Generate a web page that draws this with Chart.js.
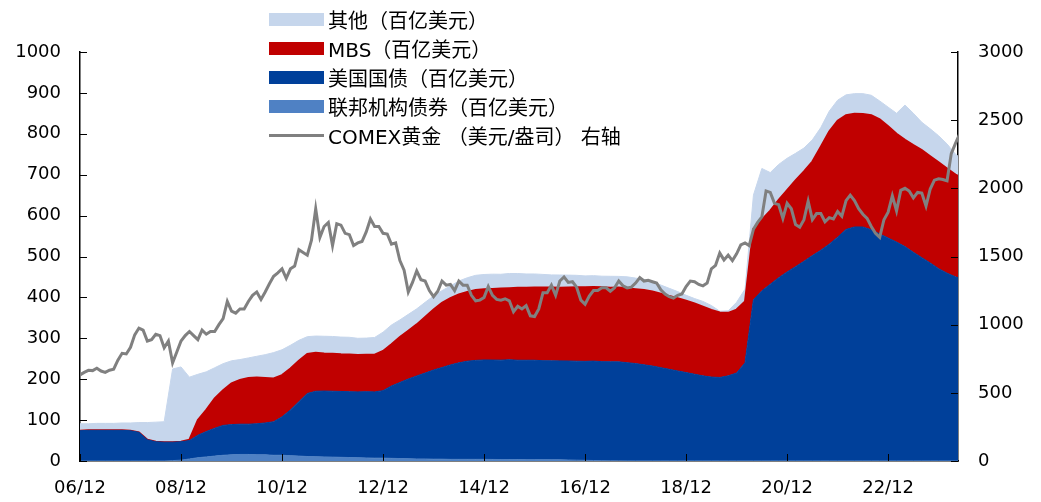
<!DOCTYPE html>
<html>
<head>
<meta charset="utf-8">
<script src="https://cdn.jsdelivr.net/npm/chart.js@4.4.1/dist/chart.umd.min.js"></script>
<style>
    body { margin: 0; background: #fff; }
    #wrap { position: relative; width: 1041px; height: 502px; }
    #legend { position: absolute; left: 269px; top: 0; font: 20px 'DejaVu Sans', 'Noto Sans CJK SC', sans-serif; color: #000; }
    .item { position: absolute; left: 0; height: 29px; white-space: nowrap; display: flex; align-items: center; }
    .swatch { width: 55px; height: 13px; margin-right: 4px; }
    .line { width: 55px; height: 3px; margin-right: 4px; }
</style>
</head>
<body>
<div id="wrap">
    <canvas id="chart" width="1041" height="502"></canvas>
    <div id="legend"></div>
</div>
<script>
// months since 2006/12, sampled every two months for the balance sheet
const months = [];
for (let m = 0; m <= 208; m += 2) months.push(m);
months.push(209);

const xTickLabels = ['06/12', '08/12', '10/12', '12/12', '14/12', '16/12', '18/12', '20/12', '22/12'];

// 联邦机构债券 (百亿美元)
const agency = [
    0, 0, 0, 0, 0, 0, 0, 0, 0, 0, 0,
    1, 2, 5, 8, 10, 12, 14, 15, 16, 16, 15, 15, 14, 14, 13, 12, 11, 10.5, 10, 9.5,
    9, 8.5, 8, 7.5, 7, 7, 6.5, 6, 5.5, 5, 5, 4.5, 4.5, 4, 4, 4, 4, 4, 3.8, 3.6,
    3.5, 3.4, 3.3, 3.3, 3.2, 3, 2.8, 2.5, 2, 1.6, 1.2, 0.9, 0.6, 0.4, 0.3,
    0.2, 0.2, 0.2, 0.2, 0.2, 0.2, 0.2, 0.2, 0.2, 0.2, 0.2, 0.2, 0.2, 0.2, 0.2, 0.2, 0.2, 0.2, 0.2, 0.2,
    0.2, 0.2, 0.2, 0.2, 0.2, 0.2, 0.2, 0.2, 0.2, 0.2, 0.2, 0.2, 0.2, 0.2, 0.2, 0.2, 0.2, 0.2, 0.2, 0.2
];

// 美国国债 (百亿美元)
const treasury = [
    74, 75, 75, 75, 75, 75, 74, 70, 52, 47, 46,
    45, 45, 45, 55, 62, 68, 73, 74, 74, 74,
    76, 78, 82, 94, 112, 133, 154, 160, 161, 161,
    161, 161, 161, 162, 162, 165, 177, 186, 195, 203,
    210, 218, 224, 231, 236, 240, 242, 243, 243, 243,
    244, 243, 243, 243, 242, 242, 242, 242, 242, 242,
    243, 242, 242, 242, 240, 238, 235, 232, 228, 224,
    220, 216, 212, 208, 205, 204, 208, 215, 240, 394,
    416, 432, 448, 462, 475, 488, 502, 515, 530, 547,
    566, 572, 572, 565, 555, 545, 535, 524, 510, 497,
    484, 470, 459, 450, 447
];

// MBS (百亿美元)
const mbs = [
    0, 0, 0, 0, 0, 0, 0, 0, 0, 0, 0, 0, 0,
    2, 37, 53, 73, 86, 101, 108, 113,
    113, 110, 106, 102, 101, 100, 97, 94, 92, 92,
    91, 91, 90, 90, 91, 97, 102, 111, 118, 126,
    137, 148, 158, 163, 167, 169, 172, 173, 174, 175,
    175, 177, 177, 178, 179, 179, 179, 180, 181, 181,
    181, 182, 181, 182, 182, 182, 183, 182, 181, 179,
    178, 176, 173, 169, 164, 159, 154, 155, 150, 174,
    174, 180, 190, 200, 211, 220, 230, 253, 275, 285,
    279, 277, 276, 280, 280, 273, 265, 261, 262, 263,
    261, 260, 256, 250, 248
];

// 其他 (百亿美元)
const other = [
    17, 16, 17, 17, 17, 18, 19, 24, 42, 48,
    50, 179, 183, 153, 112, 93, 75, 65, 55, 50,
    49, 52, 57, 63, 62, 57, 50, 42, 41, 42,
    42, 42, 42, 41, 41, 42, 46, 47, 42, 40,
    38, 36, 33, 30, 30, 33, 35, 36, 36, 36,
    35, 36, 35, 34, 33, 32, 31, 31, 30, 29,
    28, 28, 27, 28, 27, 28, 27, 26, 24, 21,
    19, 16, 13, 12, 13, 11, 3, 5, 18, 30,
    82, 125, 93, 87, 78, 66, 57, 53, 47, 50,
    50, 50, 49, 50, 49, 45, 47, 50, 85, 78,
    68, 67, 65, 60, 50, 47
];

// COMEX黄金 (美元/盎司), monthly from 2006/12
const gold = [
    632,
    650, 665, 663, 680, 660, 650, 666, 673, 740, 790, 785, 834,
    925, 975, 960, 880, 890, 930, 920, 830, 880, 720, 800, 880,
    920, 950, 920, 890, 960, 930, 950, 950, 1000, 1045, 1170, 1100,
    1085, 1115, 1115, 1170, 1215, 1240, 1185, 1240, 1300, 1355, 1380, 1410,
    1340, 1410, 1430, 1550, 1530, 1510, 1620, 1850, 1640, 1720, 1750, 1580,
    1740, 1730, 1670, 1660, 1580, 1600, 1610, 1680, 1775, 1720, 1720, 1670,
    1665, 1590, 1600, 1470, 1400, 1240, 1310, 1395, 1330, 1320, 1250, 1205,
    1245, 1320, 1290, 1295, 1250, 1320, 1290, 1290, 1215, 1175, 1180, 1200,
    1280, 1215, 1185, 1180, 1190, 1175, 1095, 1135, 1115, 1140, 1065, 1060,
    1115, 1235, 1235, 1290, 1215, 1320, 1350, 1310, 1315, 1275, 1180, 1150,
    1210, 1250, 1250, 1270, 1270, 1245, 1270, 1320, 1285, 1270, 1275, 1305,
    1345, 1320, 1325, 1315, 1305, 1255, 1225, 1205, 1195, 1215, 1225, 1280,
    1320, 1315, 1295, 1285, 1305, 1410, 1435, 1525, 1475, 1510, 1470, 1520,
    1585, 1600, 1580, 1700, 1750, 1790, 1980, 1970, 1890, 1880, 1780, 1890,
    1850, 1735, 1715, 1770, 1905, 1770, 1815, 1815, 1755, 1785, 1775, 1830,
    1795, 1910, 1950, 1910, 1850, 1810, 1780, 1720, 1670, 1640, 1770, 1825,
    1945, 1835, 1985, 2000, 1980, 1930, 1970, 1965, 1870, 1995, 2060, 2070,
    2065, 2055, 2255, 2330, 2400
];

const toXY = (vals) => vals.map((v, i) => ({ x: months[i], y: v }));
const font = { family: "'DejaVu Sans', 'Noto Sans CJK SC', sans-serif", size: 18 };

function area(label, vals, color, border, width) {
    return {
        label: label,
        data: toXY(vals),
        yAxisID: 'y',
        backgroundColor: color,
        borderColor: border || color,
        borderWidth: width || 1,
        fill: 'stack',
        pointRadius: 0,
        order: 1
    };
}

const datasets = [
    area('联邦机构债券（百亿美元）', agency, '#4F81C4'),
    area('美国国债（百亿美元）', treasury, '#00409A'),
    area('MBS（百亿美元）', mbs, '#C00000', '#C00000', 2),
    area('其他（百亿美元）', other, '#C6D6EC'),
    {
        label: 'COMEX黄金 （美元/盎司） 右轴',
        data: gold.map((v, i) => ({ x: i, y: v })),
        yAxisID: 'y1',
        borderColor: '#808080',
        borderWidth: 3,
        fill: false,
        pointRadius: 0,
        order: 0
    }
];

// inward tick marks on all three axes
const innerTicks = {
    id: 'innerTicks',
    afterDatasetsDraw(chart) {
        const { ctx, chartArea, scales } = chart;
        ctx.save();
        ctx.strokeStyle = '#000';
        ctx.lineWidth = 1;
        ctx.beginPath();
        for (let t of scales.x.ticks) {
            const px = Math.round(scales.x.getPixelForValue(t.value)) + 0.5;
            ctx.moveTo(px, chartArea.bottom);
            ctx.lineTo(px, chartArea.bottom - 7);
        }
        for (let t of scales.y.ticks) {
            const py = Math.round(scales.y.getPixelForValue(t.value)) + 0.5;
            ctx.moveTo(chartArea.left, py);
            ctx.lineTo(chartArea.left + 7, py);
        }
        for (let t of scales.y1.ticks) {
            const py = Math.round(scales.y1.getPixelForValue(t.value)) + 0.5;
            ctx.moveTo(chartArea.right, py);
            ctx.lineTo(chartArea.right - 7, py);
        }
        ctx.stroke();
        ctx.restore();
    }
};

const chart = new Chart(document.getElementById('chart').getContext('2d'), {
    type: 'line',
    data: { datasets: datasets },
    options: {
        responsive: false,
        animation: false,
        layout: { padding: { top: 52, left: 0, right: 0, bottom: 0 } },
        plugins: { legend: { display: false }, tooltip: { enabled: false } },
        elements: { line: { tension: 0 } },
        scales: {
            x: {
                type: 'linear',
                min: 0,
                max: 208.6,
                afterBuildTicks: (s) => { s.ticks = xTickLabels.map((_, i) => ({ value: i * 24 })); },
                afterFit: (s) => { s.height = 41; },
                ticks: {
                    autoSkip: false,
                    maxRotation: 0,
                    padding: 17,
                    color: '#000',
                    font: font,
                    callback: (v) => xTickLabels[Math.round(v / 24)]
                },
                grid: { display: false, drawTicks: false },
                border: { color: '#000', width: 1.5 }
            },
            y: {
                stacked: true,
                min: 0,
                max: 1000,
                afterFit: (s) => { s.width = 80; },
                ticks: { stepSize: 100, padding: 19, color: '#000', font: font, callback: (v) => String(v) },
                grid: { display: false, drawTicks: false },
                border: { color: '#000', width: 1.5 }
            },
            y1: {
                position: 'right',
                min: 0,
                max: 3000,
                afterFit: (s) => { s.width = 83; },
                ticks: { stepSize: 500, padding: 20, color: '#000', font: font, callback: (v) => String(v) },
                grid: { display: false, drawTicks: false },
                border: { color: '#000', width: 1.5 }
            }
        }
    },
    plugins: [innerTicks]
});

// legend drawn as html over the plot
const legendOrder = [3, 2, 1, 0, 4];
const legend = document.getElementById('legend');
legendOrder.forEach((idx, row) => {
    const ds = datasets[idx];
    const item = document.createElement('div');
    item.classList.add('item');
    item.style.top = (5 + row * 29) + 'px';
    const mark = document.createElement('span');
    if (idx === 4) {
        mark.classList.add('line');
        mark.style.background = ds.borderColor;
    } else {
        mark.classList.add('swatch');
        mark.style.background = ds.backgroundColor;
    }
    const text = document.createElement('span');
    text.textContent = ds.label;
    item.append(mark, text);
    legend.append(item);
});
</script>
</body>
</html>
